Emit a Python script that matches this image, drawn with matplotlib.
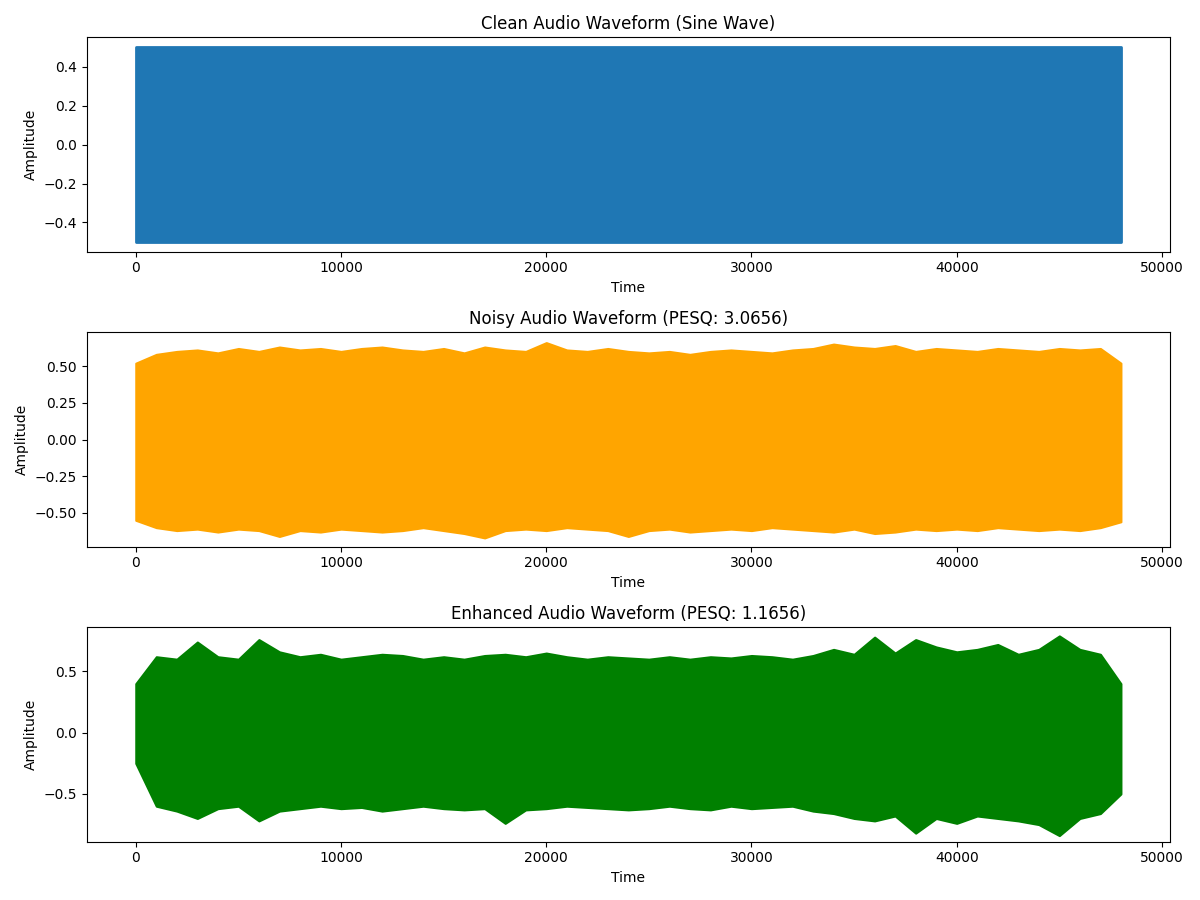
import matplotlib
matplotlib.use("Agg")
import matplotlib.pyplot as plt

n_samples = 48000
clean_amp = 0.5

# Envelope of the waveforms, every 1000 samples (0..48000)
env_x = list(range(0, 48001, 1000))
noisy_upper = [0.52,0.58,0.60,0.61,0.59,0.62,0.60,0.63,0.61,0.62,0.60,0.62,0.63,0.61,0.60,0.62,0.59,0.63,0.61,0.60,
               0.66,0.61,0.60,0.62,0.60,0.59,0.60,0.58,0.60,0.61,0.60,0.59,0.61,0.62,0.65,0.63,0.62,0.64,0.60,0.62,
               0.61,0.60,0.62,0.61,0.60,0.62,0.61,0.62,0.52]
noisy_lower = [-0.55,-0.60,-0.62,-0.61,-0.63,-0.61,-0.62,-0.66,-0.62,-0.63,-0.61,-0.62,-0.63,-0.62,-0.60,-0.62,-0.64,-0.67,-0.62,-0.61,
               -0.62,-0.60,-0.61,-0.62,-0.66,-0.62,-0.61,-0.63,-0.62,-0.61,-0.62,-0.60,-0.61,-0.62,-0.63,-0.61,-0.64,-0.63,-0.61,-0.62,
               -0.61,-0.62,-0.60,-0.61,-0.62,-0.61,-0.62,-0.60,-0.56]
enh_upper = [0.40,0.62,0.60,0.74,0.62,0.60,0.76,0.66,0.62,0.64,0.60,0.62,0.64,0.63,0.60,0.62,0.60,0.63,0.64,0.62,
             0.65,0.62,0.60,0.62,0.61,0.60,0.62,0.60,0.62,0.61,0.63,0.62,0.60,0.63,0.68,0.64,0.78,0.65,0.76,0.70,
             0.66,0.68,0.72,0.64,0.68,0.79,0.68,0.64,0.40]
enh_lower = [-0.25,-0.60,-0.64,-0.70,-0.62,-0.60,-0.72,-0.64,-0.62,-0.60,-0.62,-0.61,-0.64,-0.62,-0.60,-0.62,-0.63,-0.62,-0.74,-0.63,
             -0.62,-0.60,-0.61,-0.62,-0.63,-0.62,-0.60,-0.62,-0.63,-0.60,-0.62,-0.61,-0.60,-0.64,-0.66,-0.70,-0.72,-0.68,-0.82,-0.70,
             -0.74,-0.68,-0.70,-0.72,-0.75,-0.84,-0.70,-0.66,-0.50]

titles = ["Clean Audio Waveform (Sine Wave)",
          "Noisy Audio Waveform (PESQ: 3.0656)",
          "Enhanced Audio Waveform (PESQ: 1.1656)"]

fig, axes = plt.subplots(3, 1, figsize=(12, 9), dpi=100)

ax = axes[0]
ax.fill_between([0, n_samples], [clean_amp, clean_amp], [-clean_amp, -clean_amp],
                color="#1f77b4", edgecolor="#1f77b4", linewidth=2)
ax.set_ylim(-0.55, 0.55)

ax = axes[1]
ax.fill_between(env_x, noisy_upper, noisy_lower, color="orange", edgecolor="orange", linewidth=1.5)
ax.set_ylim(-0.73, 0.73)

ax = axes[2]
ax.fill_between(env_x, enh_upper, enh_lower, color="green", edgecolor="green", linewidth=1.5)
ax.set_ylim(-0.89, 0.86)
ax.set_yticks([-0.5, 0.0, 0.5])

for ax, t in zip(axes, titles):
    ax.set_title(t)
    ax.set_xlabel("Time")
    ax.set_ylabel("Amplitude")
    ax.set_xlim(-2400, 50400)

plt.tight_layout()
plt.savefig("out.png")
